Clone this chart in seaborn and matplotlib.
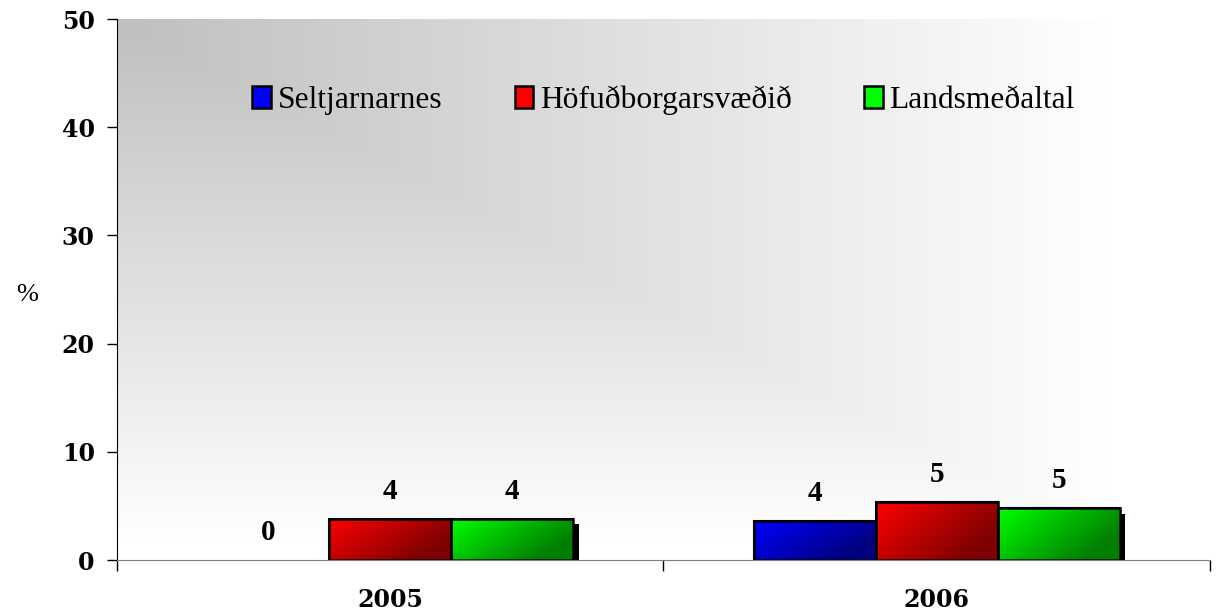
import numpy as np
import pandas as pd
import matplotlib
matplotlib.use('Agg')
import matplotlib.pyplot as plt
import matplotlib.patheffects as pe
from matplotlib.patches import Rectangle
import seaborn as sns

# chart data
years = ['2005', '2006']
series = ['Seltjarnarnes', 'Höfuðborgarsvæðið', 'Landsmeðaltal']
seltjarnarnes = [0.0, 3.6]
hofudborg = [3.8, 5.4]
landsmedaltal = [3.8, 4.8]
bright = ['#0000ff', '#ff0000', '#00ff00']

df = pd.DataFrame({
    'year': years * 3,
    'series': [s for s in series for _ in years],
    'value': seltjarnarnes + hofudborg + landsmedaltal,
})

sns.set_style('white')
plt.rcParams['font.family'] = ['DejaVu Serif']
plt.rcParams['text.color'] = 'black'
plt.rcParams['xtick.color'] = 'black'
plt.rcParams['ytick.color'] = 'black'
plt.rcParams['axes.labelcolor'] = 'black'

fig, ax = plt.subplots(figsize=(12.18, 6.15), dpi=100)
fig.subplots_adjust(left=0.096, right=0.9934, bottom=0.0894, top=0.969)

sns.barplot(data=df, x='year', y='value', hue='series', hue_order=series,
            palette=bright, width=0.67, edgecolor='black', linewidth=1.5,
            saturation=1, legend=False, ax=ax)

ax.set_xlim(-0.5, 1.5)
ax.set_ylim(0, 50)

# background gradient from the top-left corner (rectangular contours)
gx, gy = np.meshgrid(np.linspace(0, 1, 400), np.linspace(0, 1, 400))
t = np.clip(np.maximum(gx * 1.1, gy * 1.03), 0, 1)
bg = 0.75 + 0.25 * t
ax.imshow(np.dstack([bg, bg, bg]), extent=(-0.5, 1.5, 0, 50), aspect='auto',
          zorder=0, interpolation='bilinear')

# gradient fill + shadow on bars
bx, by = np.meshgrid(np.linspace(0, 1, 60), np.linspace(0, 1, 60))
shade = 1 - 0.5 * np.clip(bx * 0.8 + by * 0.45, 0, 1)
for cont, col in zip(ax.containers, bright):
    rgb = np.array(matplotlib.colors.to_rgb(col))
    img = shade[..., None] * rgb[None, None, :]
    for p in cont.patches:
        h = p.get_height()
        if h <= 0:
            p.set_visible(False)
            continue
        p.set_path_effects([pe.SimplePatchShadow(offset=(4, -4), shadow_rgbFace='black', alpha=1),
                            pe.Normal()])
        x0, w = p.get_x(), p.get_width()
        im = ax.imshow(img, extent=(x0, x0 + w, 0, h), aspect='auto', zorder=3,
                       interpolation='bilinear')
        im.set_clip_path(p)
        ax.add_patch(Rectangle((x0, 0), w, h, fill=False, edgecolor='black',
                               linewidth=1.8, zorder=4))
    ax.bar_label(cont, labels=[f'{v:.0f}' for v in cont.datavalues], padding=10,
                 fontsize=21, fontweight='bold', family='Liberation Serif', zorder=5)

ax.set_xlim(-0.5, 1.5)
ax.set_ylim(0, 50)

# axes styling
for s in ['top', 'right']:
    ax.spines[s].set_visible(False)
ax.spines['left'].set_color('black')
ax.spines['bottom'].set_color('#808080')
ax.spines['bottom'].set_zorder(6)
ax.set_yticks(range(0, 51, 10))
ax.tick_params(axis='y', length=7, width=1, pad=9, labelsize=17, left=True)
for lab in ax.get_yticklabels():
    lab.set_fontweight('bold')
ax.set_xticks([0, 1])
ax.set_xticklabels(years, fontweight='bold', fontsize=17)
ax.tick_params(axis='x', length=0, pad=20)
ax.set_xticks([-0.5, 0.5, 1.5], minor=True)
ax.tick_params(axis='x', which='minor', length=8, width=1, bottom=True)
ax.set_xlabel('')
ax.set_ylabel('%', rotation=0, fontsize=19, family='Liberation Serif')
ax.yaxis.set_label_coords(-0.082, 0.47)

handles = [Rectangle((0, 0), 1, 1, facecolor=c, edgecolor='black', linewidth=1.8) for c in bright]
ax.legend(handles, series, loc='center', bbox_to_anchor=(0.50, 0.85), ncol=3, frameon=False,
          prop={'family': 'Liberation Serif', 'size': 22.7}, handlelength=0.6, handleheight=0.7,
          handletextpad=0.2, columnspacing=2.3)

fig.savefig('out.png', dpi=100)
